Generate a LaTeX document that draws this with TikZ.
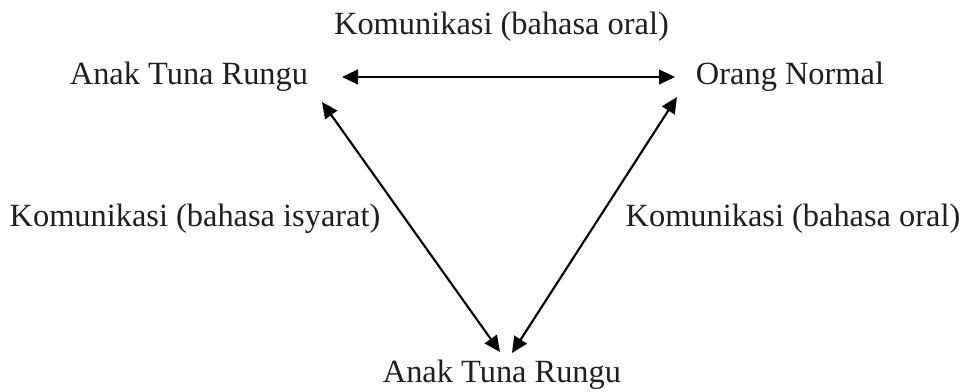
\documentclass[tikz,border=0pt]{standalone}
\usepackage{fontspec}
\setmainfont{Liberation Serif}
\usepackage{tikz}
\usetikzlibrary{positioning, calc}
\usetikzlibrary{arrows.meta}

\tikzset{
    lbl/.style={anchor=base, inner sep=0pt, text=black!88, font=\fontsize{24.3}{29}\selectfont},
    dblarr/.style={{Triangle[length=12pt,width=11pt]}-{Triangle[length=12pt,width=11pt]}, line width=1.6pt}
}

\begin{document}
\begin{tikzpicture}[x=0.75pt,y=-0.75pt]
            \useasboundingbox (0,0) rectangle (961,392);
            \node[lbl] (atas) at (501.5,35) {Komunikasi (bahasa oral)};
            \node[lbl] (atr) at (189,85) {Anak Tuna Rungu};
            \node[lbl] (normal) at (790,85) {Orang Normal};
            \node[lbl] (isyarat) at (195,227) {Komunikasi (bahasa isyarat)};
            \node[lbl] (oral) at (793,227) {Komunikasi (bahasa oral)};
            \node[lbl] (atrbawah) at (502,382) {Anak Tuna Rungu};
            % ujung panah
            \coordinate (h1) at (342,77);
            \coordinate (h2) at (675,77);
            \coordinate (k1) at (322,102);
            \coordinate (k2) at (500,352);
            \coordinate (r1) at (677,97);
            \coordinate (r2) at (512,353);
            \draw[dblarr] (h1) -- (h2);
            \draw[dblarr] (k1) -- (k2);
            \draw[dblarr] (r1) -- (r2);
        \end{tikzpicture}
\end{document}
